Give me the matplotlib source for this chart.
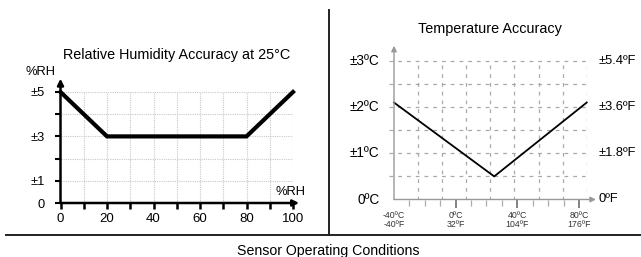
from __future__ import annotations

import matplotlib

matplotlib.use("Agg")
import matplotlib.pyplot as plt
from matplotlib.lines import Line2D

OUTPUT_FILE = "out.png"
FIG_W, FIG_H = 641, 257
DPI = 100

# relative humidity accuracy at 25 C
RH_X = [0, 20, 80, 100]
RH_ACCURACY = [5, 3, 3, 5]
RH_XTICKS = [0, 10, 20, 30, 40, 50, 60, 70, 80, 90, 100]
RH_XTICK_LABELS = ["0", "", "20", "", "40", "", "60", "", "80", "", "100"]
RH_YTICKS = [0, 1, 2, 3, 4, 5]
RH_YTICK_LABELS = ["0", "±1", "", "±3", "", "±5"]

# temperature accuracy
TEMP_C = [-40, 25, 85]
TEMP_ACCURACY = [2.1, 0.5, 2.1]
TEMP_MAJOR = [0, 40, 80]
TEMP_MINOR = [-30, -20, -10, 10, 20, 30, 50, 60, 70]
TEMP_LABEL_POS = [-40, 0, 40, 80]
TEMP_XTICK_LABELS = ["-40ºC\n-40ºF", "0ºC\n32ºF", "40ºC\n104ºF", "80ºC\n176ºF"]
TEMP_GRID_X = [-24.4, -8.8, 6.9, 22.5, 38.1, 53.8, 69.4, 85]
TEMP_GRID_Y = [0.5, 1.0, 1.5, 2.0, 2.5, 3.0]
TEMP_YTICKS = [0, 1, 2, 3]
TEMP_YLABELS_C = ["0ºC", "±1ºC", "±2ºC", "±3ºC"]
TEMP_YLABELS_F = ["0ºF", "±1.8ºF", "±3.6ºF", "±5.4ºF"]

FONT = ["Liberation Sans", "DejaVu Sans"]


def fx(px: float) -> float:
    return px / FIG_W


def fy(py: float) -> float:
    return 1 - py / FIG_H


def px_box(left: float, top: float, right: float, bottom: float) -> list[float]:
    return [fx(left), fy(bottom), (right - left) / FIG_W, (bottom - top) / FIG_H]


def arrow(axis, start, end, color, lw, scale):
    axis.annotate(
        "",
        xy=end,
        xytext=start,
        arrowprops=dict(arrowstyle="-|>", color=color, lw=lw, mutation_scale=scale,
                        shrinkA=0, shrinkB=0),
        annotation_clip=False,
    )


def plot_humidity(figure) -> None:
    axis = figure.add_axes(px_box(60.5, 92, 293, 203))
    axis.set_xlim(0, 100)
    axis.set_ylim(0, 5)
    for spine in axis.spines.values():
        spine.set_visible(False)

    for x in RH_XTICKS[1:]:
        axis.plot([x, x], [0, 5], color="#c8c8c8", lw=0.8, ls=(0, (1, 1)), zorder=1)
    for y in RH_YTICKS[1:]:
        axis.plot([0, 100], [y, y], color="#c8c8c8", lw=0.8, ls=(0, (1, 1)), zorder=1)

    axis.plot(RH_X, RH_ACCURACY, color="black", lw=3, solid_joinstyle="miter", zorder=3,
              clip_on=False)

    arrow(axis, (0, 0), (102.6, 0), "black", 1.8, 9)
    arrow(axis, (0, 0), (0, 5.6), "black", 1.8, 9)

    axis.set_xticks(RH_XTICKS, RH_XTICK_LABELS)
    axis.set_yticks(RH_YTICKS, RH_YTICK_LABELS)
    axis.tick_params(axis="x", length=4, width=1.8, pad=3, labelsize=9.5)
    axis.tick_params(axis="y", length=4, width=1.5, pad=7, labelsize=9.3)
    for label in axis.get_xticklabels() + axis.get_yticklabels():
        label.set_family(FONT)

    axis.set_title("Relative Humidity Accuracy at 25°C", family=FONT, fontsize=10.4,
                   pad=24)
    axis.text(-8.5, 5.9, "%RH", family=FONT, fontsize=9.3, ha="center", va="center")
    axis.text(99, 0.5, "%RH", family=FONT, fontsize=9.3, ha="center", va="center")


def plot_temperature(figure) -> None:
    axis = figure.add_axes(px_box(394, 61, 586.7, 199.5))
    axis.set_xlim(-40, 85)
    axis.set_ylim(0, 3)
    for spine in axis.spines.values():
        spine.set_visible(False)

    for x in TEMP_GRID_X:
        axis.plot([x, x], [0, 3], color="#a8a8a8", lw=0.9, ls=(0, (3, 4)), zorder=1)
    for y in TEMP_GRID_Y:
        axis.plot([-43, 85], [y, y], color="#a8a8a8", lw=0.9, ls=(0, (3, 4)), zorder=1,
                  clip_on=False)

    axis.plot(TEMP_C, TEMP_ACCURACY, color="black", lw=1.3, zorder=3, clip_on=False)

    arrow(axis, (-40, 0), (91, 0), "#999999", 1.0, 8)
    arrow(axis, (-40, 0), (-40, 3.33), "#999999", 1.0, 8)

    axis.set_xticks(TEMP_MAJOR)
    axis.set_xticks(TEMP_MINOR, minor=True)
    axis.tick_params(axis="x", which="major", length=6, width=1.3, color="#777777",
                     labelbottom=False)
    axis.tick_params(axis="x", which="minor", length=4.5, width=0.9, color="#aaaaaa")
    axis.set_yticks([])
    for x, label in zip(TEMP_LABEL_POS, TEMP_XTICK_LABELS):
        axis.text(x, -0.24, label, family=FONT, fontsize=6.3, color="#333333",
                  ha="center", va="top", linespacing=1.1)

    for y, label_c, label_f in zip(TEMP_YTICKS, TEMP_YLABELS_C, TEMP_YLABELS_F):
        axis.text(-49.5, y, label_c, family=FONT, fontsize=9.8, ha="right",
                  va="center")
        axis.text(92.5, y, label_f, family=FONT, fontsize=9.3, ha="left", va="center")

    axis.set_title("Temperature Accuracy", family=FONT, fontsize=10.4, pad=20)


def main() -> int:
    figure = plt.figure(figsize=(FIG_W / DPI, FIG_H / DPI), dpi=DPI)
    figure.patch.set_facecolor("white")

    plot_humidity(figure)
    plot_temperature(figure)

    figure.add_artist(Line2D([fx(329), fx(329)], [fy(10), fy(235)], color="#222222",
                             lw=1.4))
    figure.add_artist(Line2D([fx(6), fx(641)], [fy(235), fy(235)], color="#222222",
                             lw=1.4))
    figure.text(fx(328), fy(244.5), "Sensor Operating Conditions", family=FONT,
                fontsize=10.2, ha="center", va="top")

    figure.savefig(OUTPUT_FILE, dpi=DPI)
    plt.close(figure)
    return 0


if __name__ == "__main__":
    raise SystemExit(main())
